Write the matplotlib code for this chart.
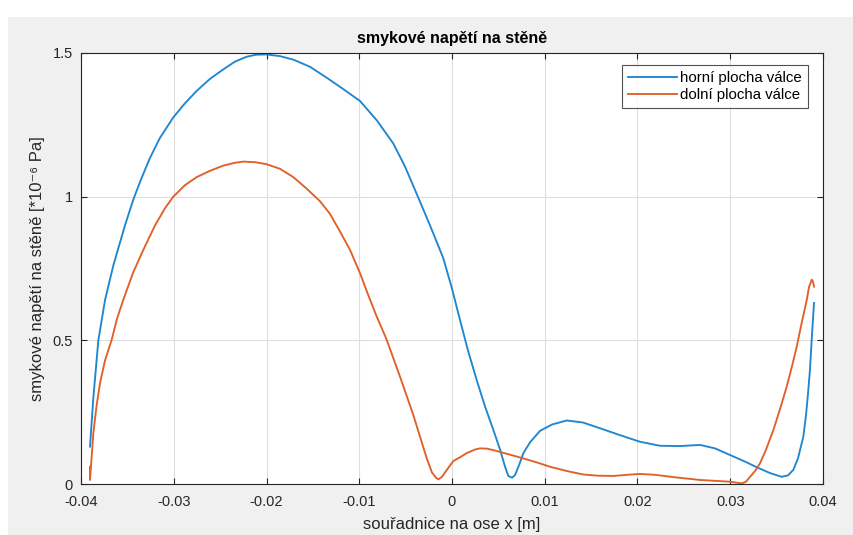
import matplotlib
matplotlib.use("Agg")
import matplotlib.pyplot as plt
from matplotlib.patches import Rectangle

plt.rcParams['font.family'] = ['Liberation Sans', 'DejaVu Sans']

# wall shear stress along the x axis (values in 1e-6 Pa)
x_upper = [-0.03903, -0.03867, -0.03813, -0.03741, -0.03652, -0.03598, -0.03526,
           -0.03436, -0.03353, -0.03256, -0.03148, -0.03005, -0.02879, -0.02753,
           -0.02609, -0.02466, -0.0234, -0.02214, -0.02113, -0.01998, -0.01854,
           -0.01711, -0.01531, -0.01351, -0.01175, -0.00992, -0.00809, -0.00633,
           -0.00507, -0.00381, -0.00237, -0.00094, 0.0, 0.00086, 0.00172,
           0.00266, 0.00356, 0.00446, 0.00518, 0.00572, 0.00607, 0.00647,
           0.00679, 0.00722, 0.00769, 0.00841, 0.00949, 0.01078, 0.01237,
           0.01412, 0.01596, 0.01811, 0.02027, 0.02243, 0.02459, 0.02674,
           0.02836, 0.02997, 0.03159, 0.03288, 0.03429, 0.03554, 0.03622,
           0.0368, 0.03731, 0.03788, 0.03817, 0.03842, 0.0386, 0.03878, 0.03903]
y_upper = [0.13, 0.30, 0.50, 0.64, 0.76, 0.82, 0.90,
           0.99, 1.06, 1.135, 1.205, 1.276, 1.325, 1.368,
           1.41, 1.443, 1.47, 1.487, 1.494, 1.495, 1.489,
           1.477, 1.452, 1.414, 1.375, 1.333, 1.265, 1.185,
           1.105, 1.01, 0.90, 0.786, 0.68, 0.571, 0.465,
           0.362, 0.27, 0.188, 0.12, 0.06, 0.028, 0.022,
           0.031, 0.065, 0.107, 0.145, 0.185, 0.207, 0.221,
           0.214, 0.194, 0.17, 0.147, 0.133, 0.132, 0.136,
           0.124, 0.101, 0.078, 0.058, 0.038, 0.025, 0.030,
           0.049, 0.09, 0.165, 0.24, 0.328, 0.40, 0.502, 0.63]

x_lower = [-0.03903, -0.03903, -0.03867, -0.03833, -0.03795, -0.03741, -0.03669,
           -0.03612, -0.03544, -0.03439, -0.03328, -0.03202, -0.03094, -0.03005,
           -0.02879, -0.02753, -0.02609, -0.02466, -0.0234, -0.0225, -0.02124,
           -0.0200, -0.01855, -0.01711, -0.01574, -0.01423, -0.01315, -0.01208,
           -0.011, -0.00992, -0.00906, -0.00812, -0.00704, -0.00561, -0.00417,
           -0.00345, -0.00273, -0.00216, -0.00173, -0.00148, -0.00108, -0.00054,
           0.00014, 0.00086, 0.00162, 0.00248, 0.00302, 0.00377, 0.00446,
           0.00604, 0.00769, 0.00916, 0.01057, 0.0124, 0.01416, 0.01574,
           0.01739, 0.01887, 0.02027, 0.02189, 0.02386, 0.02674, 0.02836,
           0.02997, 0.03123, 0.0317, 0.03213, 0.03267, 0.03321, 0.03386,
           0.03465, 0.03536, 0.03609, 0.03666, 0.03717, 0.03763, 0.03825,
           0.03849, 0.03878, 0.03892, 0.03903]
y_lower = [0.06, 0.014, 0.177, 0.27, 0.351, 0.43, 0.502,
           0.575, 0.641, 0.735, 0.815, 0.90, 0.96, 1.0,
           1.04, 1.068, 1.09, 1.108, 1.118, 1.122, 1.12,
           1.113, 1.097, 1.068, 1.03, 0.984, 0.94, 0.879,
           0.815, 0.734, 0.66, 0.583, 0.502, 0.374, 0.24,
           0.165, 0.09, 0.04, 0.022, 0.016, 0.025, 0.05,
           0.08, 0.093, 0.108, 0.12, 0.124, 0.123, 0.118,
           0.104, 0.089, 0.075, 0.060, 0.045, 0.033, 0.029,
           0.028, 0.032, 0.035, 0.032, 0.024, 0.014, 0.011,
           0.008, 0.002, 0.008, 0.025, 0.045, 0.072, 0.12,
           0.188, 0.26, 0.339, 0.41, 0.478, 0.55, 0.641,
           0.685, 0.711, 0.705, 0.687]

x_ticks = [-0.04, -0.03, -0.02, -0.01, 0, 0.01, 0.02, 0.03, 0.04]
x_ticklabels = ['-0.04', '-0.03', '-0.02', '-0.01', '0', '0.01', '0.02', '0.03', '0.04']
y_ticks = [0, 0.5, 1, 1.5]
y_ticklabels = ['0', '0.5', '1', '1.5']

W, H = 854, 535
fig = plt.figure(figsize=(W / 100, H / 100), dpi=100)
fig.patch.set_facecolor('white')
# grey window background
fig.add_artist(Rectangle((8 / W, 0), 1 - 8 / W, 1 - 17 / H,
                         transform=fig.transFigure, facecolor='#f0f0f0',
                         edgecolor='none', zorder=-10))

left, right, top, bottom = 81, 823, 53, 484
ax = fig.add_axes([left / W, (H - bottom) / H, (right - left) / W, (bottom - top) / H])
ax.set_facecolor('white')

ax.plot(x_upper, y_upper, color='#1f86cf', lw=1.35, label='horní plocha válce',
        solid_joinstyle='round')
ax.plot(x_lower, y_lower, color='#e0602a', lw=1.35, label='dolní plocha válce',
        solid_joinstyle='round')

ax.set_xlim(-0.04, 0.04)
ax.set_ylim(0, 1.5)
ax.set_xticks(x_ticks)
ax.set_xticklabels(x_ticklabels)
ax.set_yticks(y_ticks)
ax.set_yticklabels(y_ticklabels)

ax.grid(True, color='#dedede', lw=0.8)
ax.set_axisbelow(True)
for s in ax.spines.values():
    s.set_color('#262626')
    s.set_linewidth(0.8)
ax.tick_params(axis='both', direction='in', top=True, right=True, length=4, width=0.8,
               color='#262626', labelcolor='#262626', labelsize=10.5)
ax.tick_params(axis='x', pad=8)
ax.tick_params(axis='y', pad=6)

ax.set_title('smykové napětí na stěně', fontsize=11.5, fontweight='bold',
             color='black', pad=7)
ax.set_xlabel('souřadnice na ose x [m]', fontsize=12, color='#262626', labelpad=6)
ax.set_ylabel('smykové napětí na stěně [*10⁻⁶ Pa]', fontsize=12, color='#262626',
              labelpad=5)

leg = ax.legend(loc='upper right', fontsize=10.8, frameon=True, fancybox=False,
                handlelength=3.3, handletextpad=0.2, borderpad=0.4,
                labelspacing=0.2, borderaxespad=0,
                bbox_to_anchor=(0.9798, 0.972))
leg.get_frame().set_edgecolor('#262626')
leg.get_frame().set_linewidth(0.8)

fig.savefig('out.png', dpi=100)
